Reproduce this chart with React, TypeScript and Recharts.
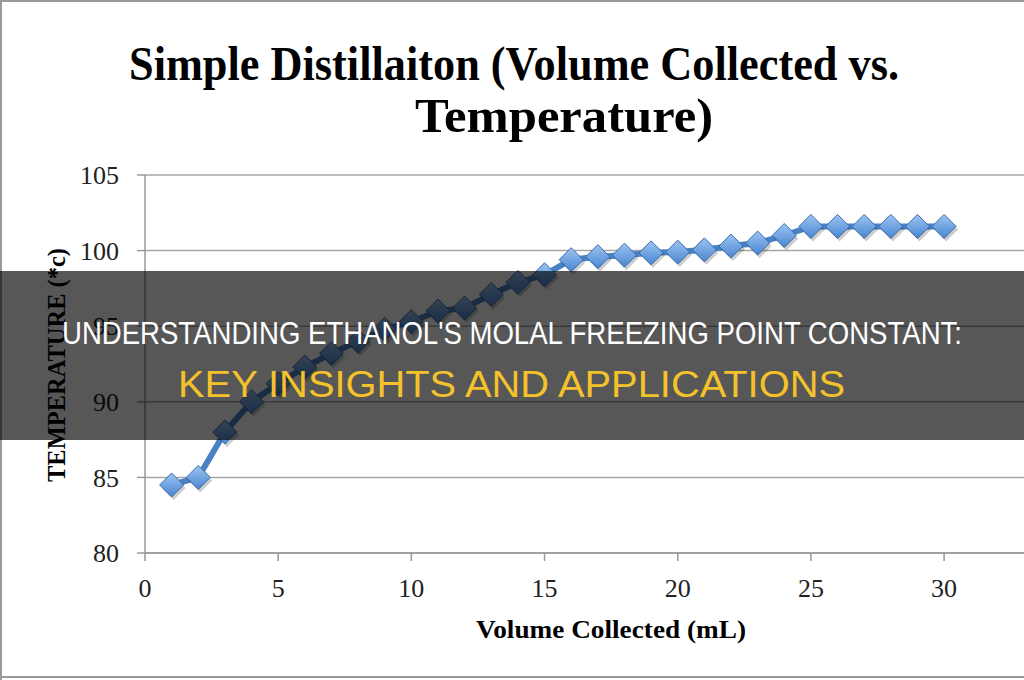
import React from 'react';
import { LineChart, Line, XAxis, YAxis, CartesianGrid } from 'recharts';

// Volume collected (mL) vs temperature (deg C)
const volume = [1, 2, 3, 4, 5, 6, 7, 8, 9, 10, 11, 12, 13, 14, 15, 16, 17, 18, 19, 20, 21, 22, 23, 24, 25, 26, 27, 28, 29, 30];
const temperature = [84.5, 85, 88, 90, 91.2, 92.3, 93.2, 94, 94.8, 95.3, 96, 96.2, 97.1, 97.9, 98.4, 99.4, 99.6, 99.7, 99.85, 99.9, 100.05, 100.3, 100.5, 101, 101.6, 101.6, 101.6, 101.6, 101.6, 101.6];
const xTicks = [0, 5, 10, 15, 20, 25, 30];
const yTicks = [80, 85, 90, 95, 100, 105];

const chartTitle = ['Simple Distillaiton (Volume Collected vs.', 'Temperature)'];
const xLabel = 'Volume Collected (mL)';
const yLabel = 'TEMPERATURE (*c)';
const bannerTop = "UNDERSTANDING ETHANOL'S MOLAL FREEZING POINT CONSTANT:";
const bannerBottom = 'KEY INSIGHTS AND APPLICATIONS';

const data = volume.map((v, i) => ({ volume: v, temp: temperature[i] }));

const W = 1024;
const H = 680;

const Diamond = (props: any) => {
  const { cx, cy } = props;
  if (cx == null || cy == null) return null;
  const r = 12;
  const pts = (dx: number, dy: number) =>
    `${cx + dx},${cy - r + dy} ${cx + r + dx},${cy + dy} ${cx + dx},${cy + r + dy} ${cx - r + dx},${cy + dy}`;
  return (
    <g>
      <polygon points={pts(2, 3)} fill="rgba(0,0,0,0.2)" />
      <polygon points={pts(0, 0)} fill="url(#diamondFill)" stroke="#3b6caa" strokeWidth={1} />
    </g>
  );
};

const tickStyle = { fill: '#222', fontSize: 26, fontFamily: '"Liberation Serif", serif' };

export default function App() {
  return (
    <div style={{ position: 'fixed', left: 0, top: 0, width: W, height: H, background: '#fff', overflow: 'hidden' }}>
      <svg width={0} height={0} style={{ position: 'absolute' }}>
        <defs>
          <linearGradient id="diamondFill" x1="0" y1="0" x2="0" y2="1">
            <stop offset="0%" stopColor="#9cc4f2" />
            <stop offset="100%" stopColor="#4a86d2" />
          </linearGradient>
        </defs>
      </svg>

      <LineChart width={W} height={H} data={data} margin={{ top: 175, right: 0, bottom: 0, left: 0 }}>
        <CartesianGrid vertical={false} stroke="#a6a6a6" strokeWidth={1.5} />
        <XAxis
          dataKey="volume"
          type="number"
          domain={[0, 33]}
          ticks={xTicks}
          height={127}
          stroke="#999"
          strokeWidth={1.5}
          tickSize={8}
          tick={tickStyle}
          tickMargin={18}
        />
        <YAxis
          type="number"
          domain={[80, 105]}
          ticks={yTicks}
          width={145}
          stroke="#999"
          strokeWidth={1.5}
          tickSize={8}
          tick={tickStyle}
          tickMargin={18}
        />
        <Line
          dataKey="temp"
          stroke="#4a80c4"
          strokeWidth={6}
          dot={<Diamond />}
          activeDot={false}
          isAnimationActive={false}
        />
      </LineChart>

      <svg width={W} height={H} style={{ position: 'absolute', left: 0, top: 0, pointerEvents: 'none' }}>
        {/* frame */}
        <line x1={1} y1={0} x2={1} y2={H} stroke="#999" strokeWidth={2} />
        <line x1={0} y1={1} x2={W} y2={1} stroke="#999" strokeWidth={2} />
        <line x1={0} y1={677} x2={W} y2={677} stroke="#999" strokeWidth={2} />

        <text x={129} y={80} textLength={770} lengthAdjust="spacingAndGlyphs" fontFamily='"Liberation Serif", serif' fontWeight="bold" fontSize={48} fill="#000">
          {chartTitle[0]}
        </text>
        <text x={415} y={132} textLength={298} lengthAdjust="spacingAndGlyphs" fontFamily='"Liberation Serif", serif' fontWeight="bold" fontSize={48} fill="#000">
          {chartTitle[1]}
        </text>
        <text x={476} y={638} textLength={270} lengthAdjust="spacingAndGlyphs" fontFamily='"Liberation Serif", serif' fontWeight="bold" fontSize={26} fill="#000">
          {xLabel}
        </text>
        <text
          transform="translate(65,482) rotate(-90)"
          x={0}
          y={0}
          textLength={234}
          lengthAdjust="spacingAndGlyphs"
          fontFamily='"Liberation Serif", serif'
          fontWeight="bold"
          fontSize={26}
          fill="#000"
        >
          {yLabel}
        </text>

        {/* banner */}
        <rect x={0} y={271} width={W} height={169} fill="rgba(0,0,0,0.66)" />
        <text x={62} y={344} textLength={900} lengthAdjust="spacingAndGlyphs" fontFamily='"Liberation Sans", Arial, sans-serif' fontSize={32} fill="#fff">
          {bannerTop}
        </text>
        <text x={178} y={397} textLength={667} lengthAdjust="spacingAndGlyphs" fontFamily='"Liberation Sans", Arial, sans-serif' fontSize={37} fill="#f4c22b">
          {bannerBottom}
        </text>
      </svg>
    </div>
  );
}
